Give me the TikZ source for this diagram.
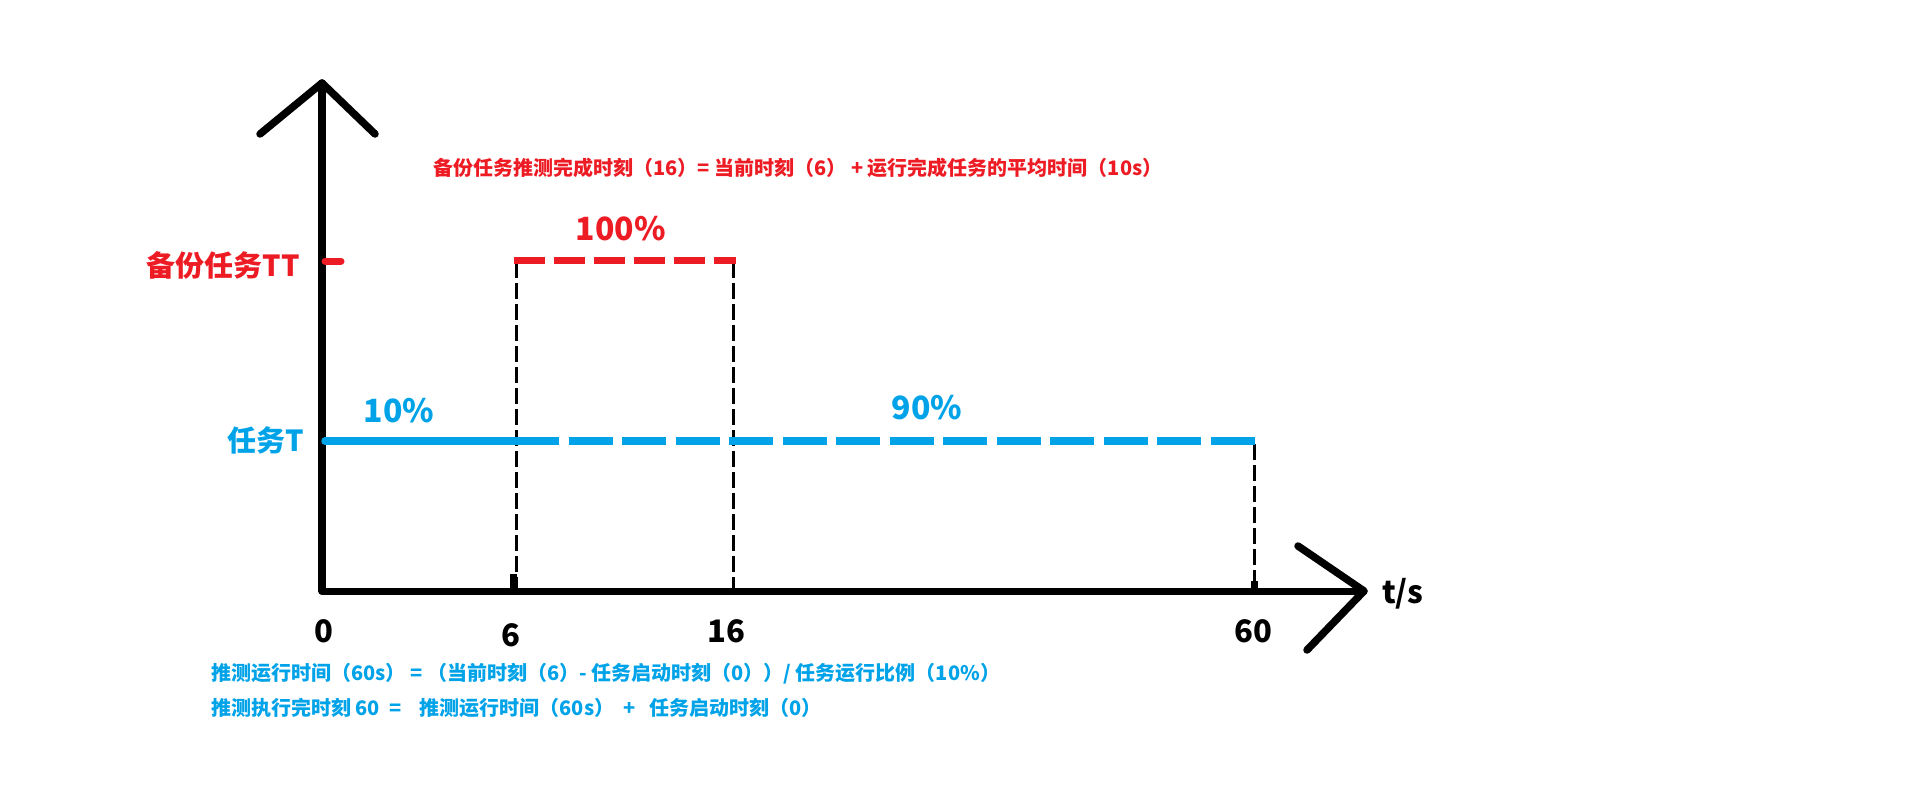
\documentclass[tikz,border=0pt]{standalone}
\usepackage{fontspec}
\setmainfont{Noto Sans CJK SC}
\definecolor{pred}{HTML}{ED1C24}
\definecolor{pblue}{HTML}{00A2E8}
\begin{document}
\begin{tikzpicture}[x=1pt,y=-1pt,
  axisline/.style={line width=7.5pt,line cap=round,line join=round,black},
  guide/.style={line width=3pt,black,dash pattern=on 16pt off 5pt},
  redline/.style={line width=7pt,pred,dash pattern=on 31pt off 9pt},
  blueline/.style={line width=7.5pt,pblue},
  bluedash/.style={line width=7.5pt,pblue,dash pattern=on 44pt off 9.5pt},
  lbl/.style={inner sep=0pt,anchor=base,font=\bfseries\fontsize{31}{36}\selectfont},
  pct/.style={inner sep=0pt,anchor=base,font=\bfseries\fontsize{32}{38}\selectfont},
  note/.style={inner sep=0pt,anchor=base west,font=\bfseries\fontsize{20}{24}\selectfont}]
\useasboundingbox (0,0) rectangle (1914,807);
% axes
\coordinate (O) at (322,591);
\coordinate (Ytop) at (322,83);
\coordinate (Xend) at (1364,591);
\coordinate (ya1) at (260,134);
\coordinate (ya2) at (375,134);
\coordinate (xa1) at (1298,546);
\coordinate (xa2) at (1307,650);
\draw[axisline] (O) -- (Ytop);
\draw[axisline] (ya1) -- (Ytop) -- (ya2);
\draw[axisline,line width=7pt] (O) -- (Xend);
\draw[axisline] (xa1) -- (Xend) -- (xa2);
% guides
\coordinate (g6t) at (516,262);
\coordinate (g6b) at (516,589);
\coordinate (g16t) at (733,262);
\coordinate (g16b) at (733,589);
\coordinate (g60t) at (1254,444);
\coordinate (g60b) at (1254,589);
\draw[guide] (g6t) -- (g6b);
\draw[guide] (g16t) -- (g16b);
\draw[guide] (g60t) -- (g60b);
\coordinate (s6t) at (513,574);
\coordinate (s6b) at (513,590);
\coordinate (s60t) at (1254,581);
\coordinate (s60b) at (1254,590);
\draw[line width=7pt] (s6t) -- (s6b);
\draw[line width=7pt] (s60t) -- (s60b);
% red backup task
\coordinate (r0) at (325,261);
\coordinate (r1) at (341,261);
\coordinate (r6) at (514,260);
\coordinate (r16) at (736,260);
\draw[pred,line width=7pt,line cap=round] (r0) -- (r1);
\draw[redline] (r6) -- (r16);
% blue task
\coordinate (b0) at (325,441);
\coordinate (b6) at (515,441);
\coordinate (b60) at (1257,441);
\draw[blueline,line cap=round] (b0) -- (b6);
\draw[bluedash] (b6) -- (b60);
% labels
\node[lbl,pred,font=\bfseries\fontsize{29}{34}\selectfont] (lbb) at (223,276) {备份任务TT};
\node[lbl,pblue,font=\bfseries\fontsize{29}{34}\selectfont] (lbt) at (266,451) {任务T};
\node[pct,pred] (p100) at (621,240) {100\%};
\node[pct,pblue] (p10) at (399,422) {10\%};
\node[pct,pblue] (p90) at (927,419) {90\%};
\node[lbl] (t0) at (324,642) {0};
\node[lbl] (t6) at (511,646) {6};
\node[lbl] (t16) at (726,642) {16};
\node[lbl] (t60) at (1253,642) {60};
\node[lbl,anchor=base west] (ts) at (1382,603) {t/s};
\node[note,pred] (top) at (433,175) {备份任务推测完成时刻（16）= 当前时刻（6） + 运行完成任务的平均时间（10s）};
\node[note,pblue] (n1) at (211,680) {推测运行时间（60s） = （当前时刻（6）- 任务启动时刻（0））/ 任务运行比例（10\%）};
\node[note,pblue] (n2) at (211,715) {推测执行完时刻 60 \ = \ \ \ 推测运行时间（60s）\ \ + \ \ 任务启动时刻（0）};
\end{tikzpicture}
\end{document}
